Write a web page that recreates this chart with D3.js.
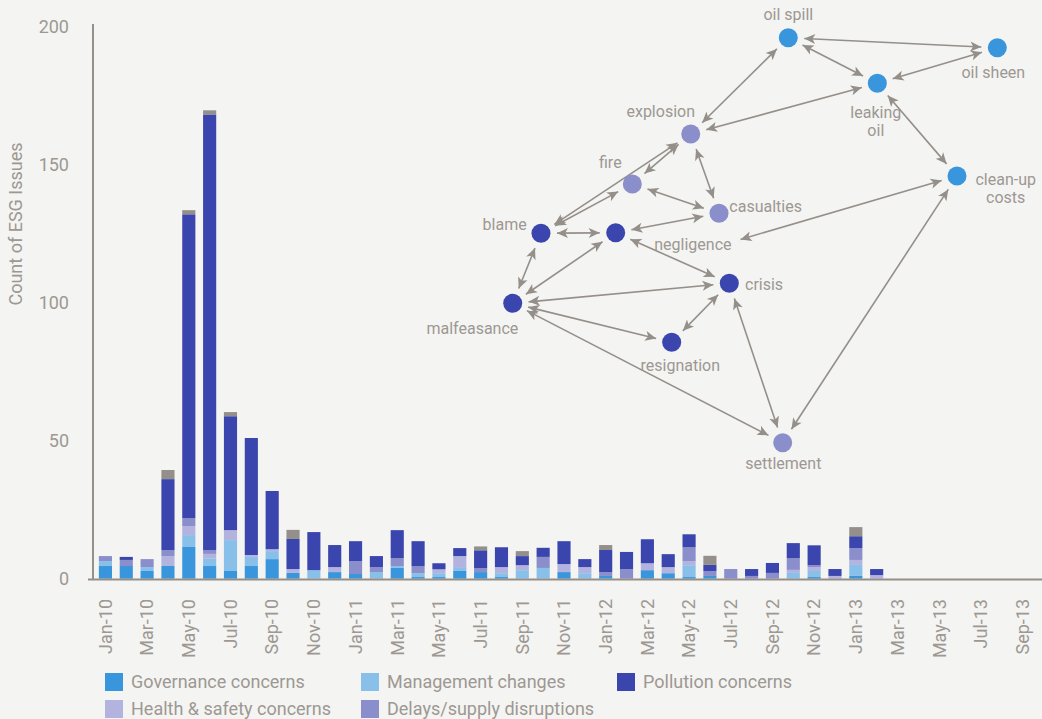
<!DOCTYPE html>
<html><head><meta charset="utf-8">
<script src="https://cdn.jsdelivr.net/npm/d3@7"></script>
<style>
html,body{margin:0;padding:0;background:#f4f4f2;}
svg{display:block;font-family:Roboto,"Liberation Sans",Arial,sans-serif;}
</style></head>
<body>
<svg id="chart" width="1042" height="719"></svg>
<script>
const months = ["Jan-10","Feb-10","Mar-10","Apr-10","May-10","Jun-10","Jul-10","Aug-10","Sep-10","Oct-10","Nov-10","Dec-10",
"Jan-11","Feb-11","Mar-11","Apr-11","May-11","Jun-11","Jul-11","Aug-11","Sep-11","Oct-11","Nov-11","Dec-11",
"Jan-12","Feb-12","Mar-12","Apr-12","May-12","Jun-12","Jul-12","Aug-12","Sep-12","Oct-12","Nov-12","Dec-12",
"Jan-13","Feb-13","Mar-13","Apr-13","May-13","Jun-13","Jul-13","Aug-13","Sep-13"];
const xTickLabels = months.filter((m,i)=>i%2===0);
const yTicks = [0,50,100,150,200];

const governance = [4.6,4.6,2.8,4.6,11.5,4.6,2.8,4.6,7.1,2.1,0,2.4, 1.7,0,3.9,0.6,0.6,2.8,2.4,0.6,0,0,2.4,0, 1.0,0,3.1,2.0,0.6,1.0,0,0,0,0,0.6,0, 1.0,0,0,0,0,0,0,0,0];
const management = [1.8,0,1.4,0,4.3,2.8,11.2,3.3,2.9,0,3.1,0, 0,2.4,0.7,1.4,1.4,1.1,0,1.4,3.1,3.9,0,2.0, 0,0,0,0,4.3,0,0,0,0,2.1,2.2,0, 4.0,0,0,0,0,0,0,0,0];
const health = [0,0,0,3.6,3.3,1.6,3.6,0.7,0.7,1.4,0,1.8, 0,0,0,0,1.4,4.3,0,2.2,1.8,0,2.9,2.2, 0,0,2.5,2.2,1.4,0,0,0,0,1.1,1.4,1.0, 1.8,1.3,0,0,0,0,0,0,0];
const delays = [1.8,2.2,2.9,2.2,2.9,1.4,0,0,0,0,0,0, 4.7,1.8,2.9,2.5,0,0,1.4,0,0,4.0,0,0, 1.4,3.5,0,0,5.1,1.8,3.5,1.0,2.1,4.3,0.7,0, 4.3,0,0,0,0,0,0,0,0];
const pollution = [0,1.1,0,25.7,110.1,157.9,41.3,42.4,21.1,10.9,13.8,8.0, 7.2,4.0,10.1,9.1,2.2,2.9,6.5,7.2,3.3,3.3,8.3,2.9, 8.0,6.2,8.7,4.7,4.7,2.2,0,2.5,3.6,5.4,7.2,2.5, 4.3,2.2,0,0,0,0,0,0,0];
const other = [0,0,0,3.3,1.5,1.5,1.5,0,0,3.3,0,0, 0,0,0,0,0,0,1.4,0,1.8,0,0,0, 1.8,0,0,0,0,3.3,0,0,0,0,0,0, 3.3,0,0,0,0,0,0,0,0];

const seriesNames = ["Governance concerns","Management changes","Health & safety concerns","Delays/supply disruptions","Pollution concerns","Other"];
const seriesColors = ["#3a96dc","#88c0ea","#b3b3e0","#8a8ecb","#3a45ae","#948f8a"];
const legendOrder = ["Governance concerns","Management changes","Pollution concerns","Health & safety concerns","Delays/supply disruptions"];

// network data (layout units 0-100)
const netNodes = [
 {id:"oil spill", g:"oil", u:55.05, v:7.85, lab:["oil spill"], dx:0, dy:-23.7, anchor:"middle"},
 {id:"oil sheen", g:"oil", u:92.38, v:9.94, lab:["oil sheen"], dx:-4, dy:25, anchor:"middle"},
 {id:"leaking oil", g:"oil", u:70.95, v:17.35, lab:["leaking","oil"], dx:-1.5, dy:28.7, anchor:"middle"},
 {id:"clean-up costs", g:"oil", u:85.18, v:36.67, lab:["clean-up","costs"], dx:48.7, dy:3, anchor:"middle"},
 {id:"explosion", g:"acc", u:37.63, v:27.92, lab:["explosion"], dx:-30, dy:-22.3, anchor:"middle"},
 {id:"fire", g:"acc", u:27.20, v:38.33, lab:["fire"], dx:-22, dy:-21.3, anchor:"middle"},
 {id:"casualties", g:"acc", u:42.68, v:44.44, lab:["casualties"], dx:10.3, dy:-7.3, anchor:"start"},
 {id:"blame", g:"gov", u:10.89, v:48.60, lab:["blame"], dx:-14.3, dy:-9, anchor:"end"},
 {id:"negligence", g:"gov", u:24.23, v:48.48, lab:["negligence"], dx:38.6, dy:11.6, anchor:"start"},
 {id:"crisis", g:"gov", u:44.52, v:59.02, lab:["crisis"], dx:15.7, dy:0.7, anchor:"start"},
 {id:"malfeasance", g:"gov", u:5.84, v:63.19, lab:["malfeasance"], dx:5.6, dy:25, anchor:"end"},
 {id:"resignation", g:"gov", u:34.23, v:71.31, lab:["resignation"], dx:8.6, dy:22.7, anchor:"middle"},
 {id:"settlement", g:"acc", u:54.05, v:92.23, lab:["settlement"], dx:0.6, dy:20.6, anchor:"middle"}
];
const netColors = {oil:"#3a96dc", acc:"#8a8ecb", gov:"#3a45ae"};
const netEdges = [
 ["oil spill","oil sheen"],["oil spill","leaking oil"],["leaking oil","oil sheen"],
 ["explosion","oil spill"],["explosion","leaking oil"],["leaking oil","clean-up costs"],
 ["fire","explosion"],["blame","explosion"],["explosion","casualties"],
 ["blame","fire"],["fire","casualties"],["blame","negligence"],["negligence","casualties"],
 ["negligence*","clean-up costs"],["negligence","crisis"],["malfeasance","blame"],
 ["malfeasance","negligence"],["malfeasance","crisis"],["malfeasance","resignation"],
 ["resignation","crisis"],["crisis","settlement"],["malfeasance","settlement"],["settlement","clean-up costs"]
];

const svg = d3.select("#chart");
const textColor = "#9d9893";
const axisColor = "#958f8a";

const x = d3.scaleBand().domain(months).range([95,1033]).paddingInner(0.37).paddingOuter(0.185);
const y = d3.scaleLinear().domain([0,200]).range([578.7,27]);

// stack
const table = months.map((m,i)=>({month:m,
  "Governance concerns":governance[i],"Management changes":management[i],
  "Health & safety concerns":health[i],"Delays/supply disruptions":delays[i],
  "Pollution concerns":pollution[i],"Other":other[i]}));
const stack = d3.stack().keys(seriesNames)(table);
const color = d3.scaleOrdinal().domain(seriesNames).range(seriesColors);

svg.append("g").selectAll("g").data(stack).join("g").attr("fill",d=>color(d.key))
  .selectAll("rect").data(d=>d).join("rect")
  .attr("x",d=>x(d.data.month)).attr("width",x.bandwidth())
  .attr("y",d=>y(d[1])).attr("height",d=>Math.max(0,y(d[0])-y(d[1])));

// axes lines
svg.append("line").attr("x1",93).attr("x2",93).attr("y1",24).attr("y2",580)
  .attr("stroke",axisColor).attr("stroke-width",2);
svg.append("line").attr("x1",88).attr("x2",1042).attr("y1",579.5).attr("y2",579.5)
  .attr("stroke",axisColor).attr("stroke-width",2);

// y tick labels
const yAxis = d3.axisLeft(y).tickValues(yTicks).tickSize(0).tickPadding(0);
const gy = svg.append("g").attr("transform","translate(69,0)").call(yAxis);
gy.select(".domain").remove();
gy.selectAll("text").attr("fill",textColor).attr("font-size",18).attr("font-family","Roboto,'Liberation Sans',Arial,sans-serif");

svg.append("text").attr("transform","translate(22,224) rotate(-90)")
  .attr("text-anchor","middle").attr("fill",textColor).attr("font-size",18)
  .text("Count of ESG Issues");

// x tick labels
const xAxis = d3.axisBottom(x).tickValues(xTickLabels).tickSize(0).tickPadding(0);
const gx = svg.append("g").call(xAxis);
gx.select(".domain").remove();
gx.selectAll(".tick").attr("transform",d=>`translate(${x(d)+x.bandwidth()/2},599)`);
gx.selectAll("text").attr("transform","rotate(-90)").attr("text-anchor","end")
  .attr("x",0).attr("y",0).attr("dy","0.35em")
  .attr("fill",textColor).attr("font-size",18).attr("font-family","Roboto,'Liberation Sans',Arial,sans-serif");

// legend
const legX = [105,361,617], legY = [673,700];
legendOrder.forEach((name,i)=>{
  const col=i%3, row=Math.floor(i/3);
  const g = svg.append("g").attr("transform",`translate(${legX[col]},${legY[row]})`);
  g.append("rect").attr("width",18).attr("height",18).attr("fill",color(name));
  g.append("text").attr("x",26).attr("y",9).attr("dy","0.35em").attr("fill",textColor)
   .attr("font-size",18).text(name);
});

// network
const xn = d3.scaleLinear().domain([0,100]).range([480,1040]);
const yn = d3.scaleLinear().domain([0,100]).range([0,480]);
const nodeById = new Map(netNodes.map(n=>[n.id,n]));

svg.append("defs").append("marker").attr("id","arr").attr("viewBox","-1 -7 14 14")
  .attr("refX",11).attr("refY",0).attr("markerWidth",14).attr("markerHeight",14)
  .attr("markerUnits","userSpaceOnUse").attr("orient","auto-start-reverse")
  .append("path").attr("d","M0,-5 L11,0 L0,5 L2.8,0 Z").attr("fill",axisColor);

const gEdges = svg.append("g");
const gNodes = svg.append("g");
const gLabels = svg.append("g");

const labelSel = gLabels.selectAll("text").data(netNodes).join("text")
  .attr("text-anchor",d=>d.anchor).attr("fill",textColor).attr("font-size",16)
  .each(function(d){
    const t=d3.select(this);
    d.lab.forEach((line,k)=>{
      t.append("tspan").attr("x",xn(d.u)+d.dx).attr("y",yn(d.v)+d.dy+k*18.5).attr("dy","0.35em").text(line);
    });
  });

function endpoint(name){
  if(name.endsWith("*")){
    const n=nodeById.get(name.slice(0,-1));
    const el=labelSel.filter(d=>d===n).node();
    const bb=el.getBBox();
    return {x:bb.x+bb.width+9, y:bb.y+bb.height/2-5, r:0};
  }
  const n=nodeById.get(name);
  return {x:xn(n.u), y:yn(n.v), r:16};
}
netEdges.forEach(([a,b])=>{
  const p=endpoint(a), q=endpoint(b);
  const dx=q.x-p.x, dy=q.y-p.y, L=Math.hypot(dx,dy);
  const ux=dx/L, uy=dy/L;
  gEdges.append("line")
    .attr("x1",p.x+ux*p.r).attr("y1",p.y+uy*p.r)
    .attr("x2",q.x-ux*q.r).attr("y2",q.y-uy*q.r)
    .attr("stroke",axisColor).attr("stroke-width",1.6)
    .attr("marker-start","url(#arr)").attr("marker-end","url(#arr)");
});

gNodes.selectAll("circle").data(netNodes).join("circle")
  .attr("cx",d=>xn(d.u)).attr("cy",d=>yn(d.v)).attr("r",9.5)
  .attr("fill",d=>netColors[d.g]);
</script>
</body></html>
